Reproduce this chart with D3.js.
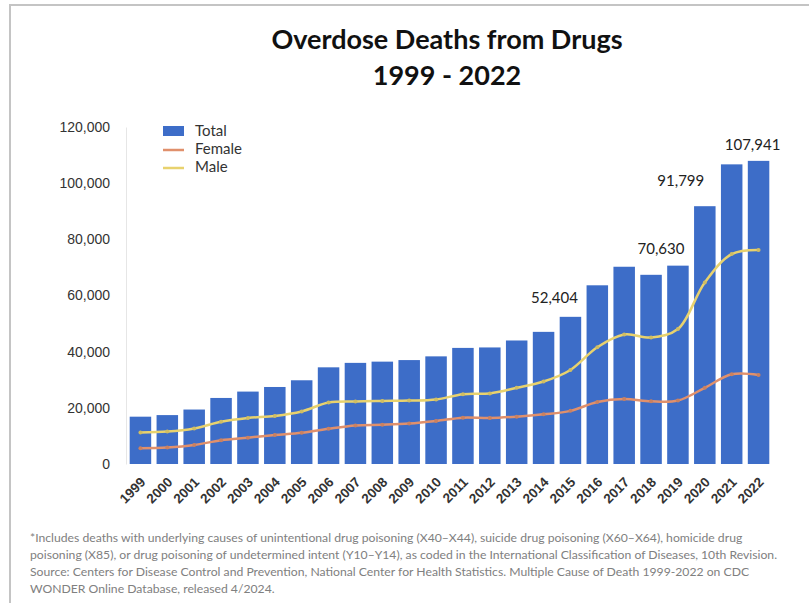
<!DOCTYPE html>
<html>
<head>
<meta charset="utf-8">
<script src="https://cdn.jsdelivr.net/npm/d3@7"></script>
<style>
  body { margin: 0; background: #fff; }
  svg { display: block; font-family: Lato, "Open Sans", sans-serif; }
</style>
</head>
<body>
<svg id="chart" width="809" height="603"></svg>
<script>
// data (CDC WONDER overdose deaths)
var years = ['1999','2000','2001','2002','2003','2004','2005','2006','2007','2008','2009','2010',
             '2011','2012','2013','2014','2015','2016','2017','2018','2019','2020','2021','2022'];
var total = [16849,17415,19394,23518,25785,27424,29813,34425,36010,36450,37004,38329,
             41340,41502,43982,47055,52404,63632,70237,67367,70630,91799,106699,107941];
var male = [11258,11563,12658,15028,16399,17120,18724,21893,22298,22468,22593,23006,
            24833,25140,27118,29358,33480,41558,46087,45064,48042,64669,74746,76226];
var female = [5591,5852,6736,8490,9386,10304,11089,12532,13712,13982,14411,15323,
              16507,16362,16864,17697,18924,22074,23150,22303,22588,27130,31953,31715];
var yTicks = [0,20000,40000,60000,80000,100000,120000];
var labelled = ['2015','2019','2020','2022'];
var footnote = [
  '*Includes deaths with underlying causes of unintentional drug poisoning (X40\u2013X44), suicide drug poisoning (X60\u2013X64), homicide drug',
  'poisoning (X85), or drug poisoning of undetermined intent (Y10\u2013Y14), as coded in the International Classification of Diseases, 10th Revision.',
  'Source: Centers for Disease Control and Prevention, National Center for Health Statistics. Multiple Cause of Death 1999-2022 on CDC',
  'WONDER Online Database, released 4/2024.'
];

var svg = d3.select('#chart');
var barColor = '#3d6dc8',
    femaleColor = '#e0906c',
    maleColor = '#e8d26e';

// frame of the screenshot
svg.append('path')
    .attr('d', 'M10,603 L10,5 L809,5')
    .style('fill', 'none')
    .style('stroke', '#c4c4c4')
    .style('stroke-width', 2);

var margin = {left: 127, right: 37, top: 127, bottom: 139};
var W = 809, H = 603;

var x = d3.scaleBand()
    .domain(years)
    .range([margin.left, W - margin.right])
    .paddingInner(0.2)
    .paddingOuter(0.1);

var y = d3.scaleLinear()
    .domain([0, 120000])
    .range([H - margin.bottom, margin.top]);

// title
svg.append('text')
    .attr('x', 447).attr('y', 49)
    .attr('text-anchor', 'middle')
    .style('font-size', '27px').style('font-weight', 'bold').style('fill', '#111')
    .text('Overdose Deaths from Drugs');
svg.append('text')
    .attr('x', 447).attr('y', 85)
    .attr('text-anchor', 'middle')
    .style('font-size', '27px').style('font-weight', 'bold').style('fill', '#111')
    .text('1999 - 2022');

// y axis
var yAxis = svg.append('g')
    .attr('transform', 'translate(' + (margin.left - 1) + ',0)')
    .call(d3.axisLeft(y).tickValues(yTicks).tickSize(0).tickPadding(16)
        .tickFormat(d3.format(',')));
yAxis.select('.domain').style('stroke', '#e6e6e6');
yAxis.selectAll('text').style('font-size', '14px').style('fill', '#333');

// bars
svg.append('g').selectAll('rect')
    .data(years)
    .enter()
    .append('rect')
    .attr('x', function(d) { return x(d); })
    .attr('width', x.bandwidth())
    .attr('y', function(d, i) { return y(total[i]); })
    .attr('height', function(d, i) { return y(0) - y(total[i]); })
    .style('fill', barColor);

// x axis
var xAxis = svg.append('g')
    .attr('transform', 'translate(0,' + y(0) + ')')
    .call(d3.axisBottom(x).tickSize(0).tickPadding(0));
xAxis.select('.domain').remove();
xAxis.selectAll('text')
    .attr('text-anchor', 'end')
    .attr('dy', null)
    .attr('transform', 'translate(6,19) rotate(-45)')
    .style('font-size', '13.5px').style('font-weight', 'bold').style('fill', '#333');

// lines
var line = function(vals) {
    return d3.line()
        .x(function(d, i) { return x(years[i]) + x.bandwidth() / 2; })
        .y(function(d) { return y(d); })
        .curve(d3.curveCatmullRom)(vals);
};
[[female, femaleColor], [male, maleColor]].forEach(function(s) {
    svg.append('path')
        .attr('d', line(s[0]))
        .style('fill', 'none')
        .style('stroke', s[1])
        .style('stroke-width', 2.5);
    svg.append('g').selectAll('circle')
        .data(s[0])
        .enter()
        .append('circle')
        .attr('cx', function(d, i) { return x(years[i]) + x.bandwidth() / 2; })
        .attr('cy', function(d) { return y(d); })
        .attr('r', 2)
        .style('fill', d3.color(s[1]).darker(0.3));
});

// data labels (sit a little left of their bars, as in the source)
var labelShift = {'2015': [-16, -14], '2019': [-17, -12], '2020': [-24, -20], '2022': [-6, -11]};
svg.append('g').selectAll('text')
    .data(labelled)
    .enter()
    .append('text')
    .attr('x', function(d) { return x(d) + x.bandwidth() / 2 + labelShift[d][0]; })
    .attr('y', function(d) { return y(total[years.indexOf(d)]) + labelShift[d][1]; })
    .attr('text-anchor', 'middle')
    .style('font-size', '15px').style('fill', '#222')
    .text(function(d) { return d3.format(',')(total[years.indexOf(d)]); });

// legend
var legend = svg.append('g').attr('transform', 'translate(163,131)');
legend.append('rect').attr('x', 0).attr('y', -5).attr('width', 21).attr('height', 10)
    .style('fill', barColor);
[['Female', femaleColor, 19], ['Male', maleColor, 37]].forEach(function(l) {
    legend.append('line').attr('x1', 0).attr('x2', 21).attr('y1', l[2]).attr('y2', l[2])
        .style('stroke', l[1]).style('stroke-width', 2.5);
});
['Total', 'Female', 'Male'].forEach(function(t, i) {
    legend.append('text').attr('x', 32).attr('y', i * 18 + 5)
        .style('font-size', '15px').style('fill', '#333').text(t);
});

// footnote
svg.append('g').selectAll('text')
    .data(footnote)
    .enter()
    .append('text')
    .attr('x', 30)
    .attr('y', function(d, i) { return 542 + i * 17; })
    .style('font-size', '12.2px').style('fill', '#808080')
    .text(function(d) { return d; });
</script>
</body>
</html>
